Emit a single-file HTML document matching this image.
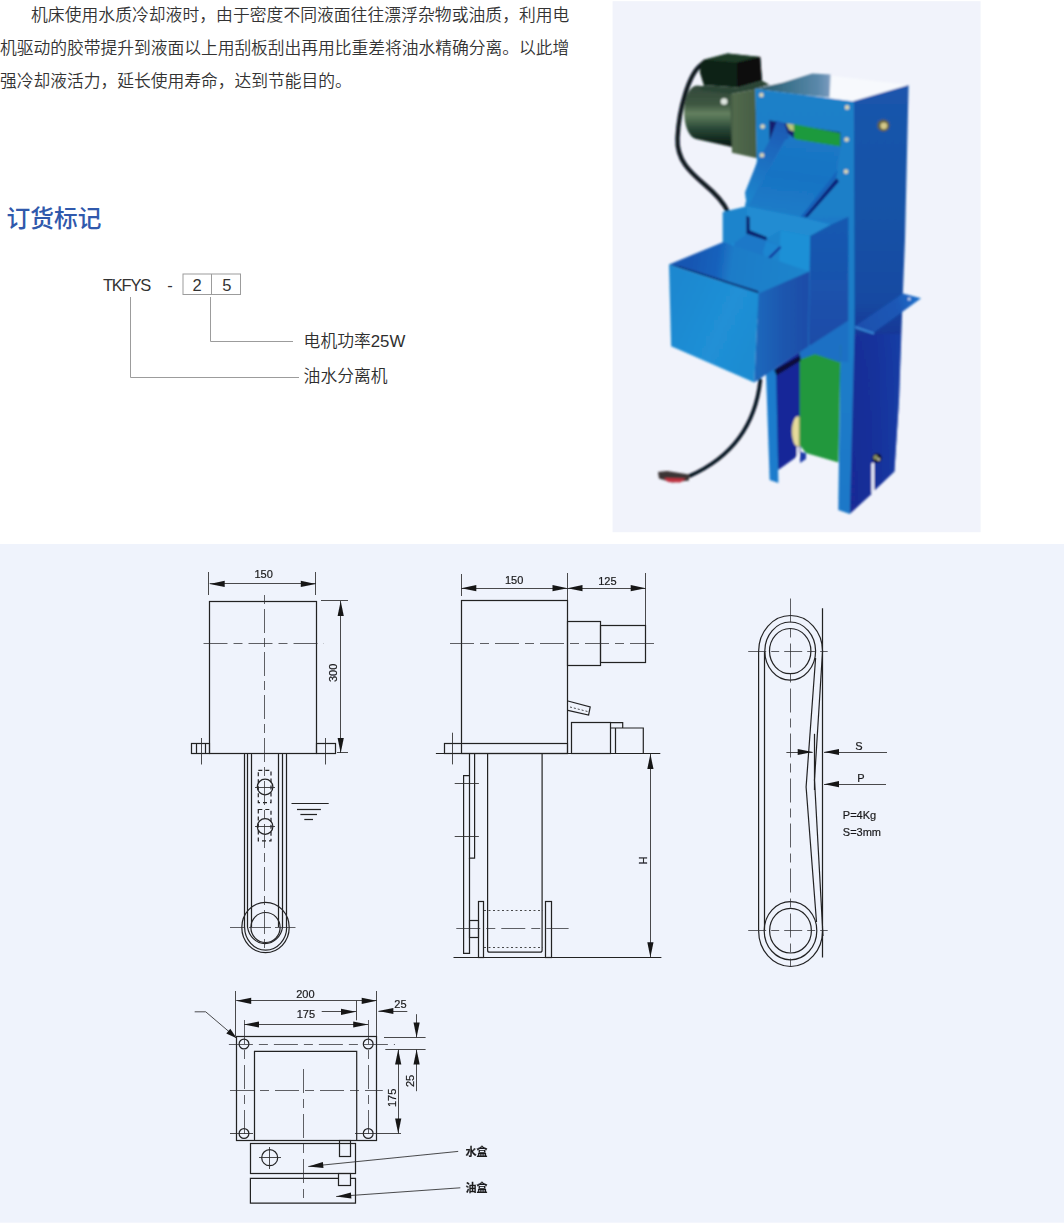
<!DOCTYPE html>
<html lang="zh-CN">
<head>
<meta charset="utf-8">
<title>油水分离机</title>
<style>
html,body{margin:0;padding:0;background:#fff;}
body{width:1064px;height:1226px;position:relative;overflow:hidden;font-family:"Liberation Sans","Noto Sans CJK SC",sans-serif;color:#333;}
.abs{position:absolute;white-space:nowrap;margin:0;}
.para{position:absolute;left:0;top:-1.4px;width:600px;margin:0;font-size:16.8px;line-height:33px;color:#333;font-weight:350;white-space:nowrap;}
.para span{display:block;height:33px;}
.h2{left:6.6px;top:201.6px;font-size:23.7px;line-height:34px;font-weight:500;color:#3059ac;}
.code{font-size:16.5px;line-height:22px;color:#333;}
.lbl{font-size:16.8px;line-height:22px;color:#2e2e2e;font-weight:350;}
#photo{position:absolute;left:612px;top:0;width:370px;height:533px;}
#panel{position:absolute;left:0;top:544px;width:1064px;height:682px;}
svg text{font-family:"Liberation Sans","Noto Sans CJK SC",sans-serif;}
.ah{fill:#151517;stroke:none}
#panel text{fill:#1a1a1c;stroke:#1a1a1c;stroke-width:0.2}
#panel .b{stroke-width:1.2;stroke:#222224}
#panel .n{stroke-width:0.85;stroke:#2a2a2c}
#panel .c{stroke-width:0.75;stroke:#2e2e32}
</style>
</head>
<body>
<p class="para"><span style="padding-left:31px;letter-spacing:0.045px">机床使用水质冷却液时，由于密度不同液面往往漂浮杂物或油质，利用电</span><span style="letter-spacing:-0.04px">机驱动的胶带提升到液面以上用刮板刮出再用比重差将油水精确分离。以此增</span><span style="letter-spacing:-0.03px">强冷却液活力，延长使用寿命，达到节能目的。</span></p>
<h2 class="abs h2">订货标记</h2>
<div class="abs code" style="left:103px;top:273.6px;letter-spacing:-1.25px;">TKFYS</div>
<div class="abs code" style="left:167.2px;top:273.6px;">-</div>
<svg class="abs" style="left:100px;top:260px;" width="340" height="140" viewBox="100 260 340 140">
<g fill="none" stroke="#9c9c9c" stroke-width="1">
<rect x="183" y="274" width="57.5" height="20.5"/>
<line x1="211.5" y1="274" x2="211.5" y2="294.5"/>
<polyline points="210.5,297 210.5,341.5 293,341.5"/>
<polyline points="130.5,297 130.5,377.5 299,377.5"/>
</g>
</svg>
<div class="abs code" style="left:192.6px;top:273.6px;">2</div>
<div class="abs code" style="left:222.2px;top:273.6px;">5</div>
<div class="abs lbl" style="left:303.6px;top:331.4px;">电机功率25W</div>
<div class="abs lbl" style="left:303.6px;top:365.9px;">油水分离机</div>
<svg id="photo" width="370" height="533" viewBox="0 0 370 533">
<defs><filter id="pb" x="-5%" y="-5%" width="110%" height="110%"><feGaussianBlur stdDeviation="0.9"/></filter>
<linearGradient id="gcyl" gradientUnits="userSpaceOnUse" x1="88" y1="86" x2="88" y2="146"><stop offset="0" stop-color="#33493a"/><stop offset="0.3" stop-color="#3d5641"/><stop offset="0.46" stop-color="#64805f"/><stop offset="0.56" stop-color="#4e6c50"/><stop offset="0.7" stop-color="#2c4a38"/><stop offset="0.9" stop-color="#12281e"/><stop offset="1" stop-color="#0a1a16"/></linearGradient>
<linearGradient id="ggear" gradientUnits="userSpaceOnUse" x1="118" y1="92" x2="144" y2="92"><stop offset="0" stop-color="#3e5640"/><stop offset="0.15" stop-color="#52694c"/><stop offset="1" stop-color="#465e44"/></linearGradient>
<linearGradient id="gtop" gradientUnits="userSpaceOnUse" x1="148" y1="85" x2="220" y2="85"><stop offset="0" stop-color="#2c5c6c"/><stop offset="0.4" stop-color="#3d738e"/><stop offset="0.8" stop-color="#5a88aa"/><stop offset="0.95" stop-color="#7698bc"/><stop offset="1" stop-color="#ccd8e8"/></linearGradient>
<linearGradient id="gr" gradientUnits="userSpaceOnUse" x1="268" y1="90" x2="268" y2="510"><stop offset="0" stop-color="#1a55ac"/><stop offset="0.3" stop-color="#1852a6"/><stop offset="0.5" stop-color="#174aa2"/><stop offset="0.57" stop-color="#123a98"/><stop offset="0.65" stop-color="#103394"/><stop offset="1" stop-color="#11298c"/></linearGradient>
<linearGradient id="grl" gradientUnits="userSpaceOnUse" x1="240" y1="420" x2="286" y2="420"><stop offset="0" stop-color="#1c2c98"/><stop offset="0.45" stop-color="#1a309c"/><stop offset="1" stop-color="#1a3ea8"/></linearGradient>
<linearGradient id="gbk" gradientUnits="userSpaceOnUse" x1="248" y1="320" x2="303" y2="300"><stop offset="0" stop-color="#1a50ae"/><stop offset="0.7" stop-color="#1a58b6"/><stop offset="1" stop-color="#1a6cc8"/></linearGradient>
<linearGradient id="gf" gradientUnits="userSpaceOnUse" x1="188" y1="90" x2="188" y2="510"><stop offset="0" stop-color="#1a80c8"/><stop offset="0.5" stop-color="#1b7ec8"/><stop offset="1" stop-color="#1a78c8"/></linearGradient>
<linearGradient id="gch" gradientUnits="userSpaceOnUse" x1="188" y1="140" x2="178" y2="215"><stop offset="0" stop-color="#1a78c6"/><stop offset="0.5" stop-color="#1973c3"/><stop offset="1" stop-color="#1b7cc8"/></linearGradient>
<linearGradient id="gcw" gradientUnits="userSpaceOnUse" x1="168" y1="122" x2="138" y2="200"><stop offset="0" stop-color="#1a58b2"/><stop offset="0.3" stop-color="#1a66bc"/><stop offset="1" stop-color="#1f84cc"/></linearGradient>
<linearGradient id="gmr" gradientUnits="userSpaceOnUse" x1="218" y1="230" x2="218" y2="345"><stop offset="0" stop-color="#1858b0"/><stop offset="1" stop-color="#1c4ca8"/></linearGradient>
<linearGradient id="grol" gradientUnits="userSpaceOnUse" x1="180" y1="430" x2="188" y2="430"><stop offset="0" stop-color="#d8cc88"/><stop offset="0.6" stop-color="#ece2a4"/><stop offset="1" stop-color="#b8b070"/></linearGradient>
<linearGradient id="gin" gradientUnits="userSpaceOnUse" x1="78" y1="260" x2="188" y2="275"><stop offset="0" stop-color="#1456b2"/><stop offset="0.25" stop-color="#1862bc"/><stop offset="0.38" stop-color="#1c7cc8"/><stop offset="1" stop-color="#1d84cc"/></linearGradient>
<linearGradient id="gbf" gradientUnits="userSpaceOnUse" x1="58" y1="300" x2="146" y2="340"><stop offset="0" stop-color="#1e88d0"/><stop offset="0.6" stop-color="#2090d6"/><stop offset="1" stop-color="#1f8cd2"/></linearGradient>
<linearGradient id="gbr" gradientUnits="userSpaceOnUse" x1="148" y1="330" x2="196" y2="330"><stop offset="0" stop-color="#1b66ba"/><stop offset="0.5" stop-color="#1c56ae"/><stop offset="1" stop-color="#1e4ca8"/></linearGradient>
</defs>
<rect x="0.6" y="1.2" width="368" height="531" fill="#f1f3fb"/>
<g filter="url(#pb)">
<path d="M 89 65 C 77 74 67 108 65.5 138 C 64.5 160 78 172 92 184 C 104 194 112 203 116 212" fill="none" stroke="#08121e" stroke-width="4.3" stroke-linecap="round"/>
<path d="M 85 85.5 L 120 89 L 120 147 L 84 139 A 13 26.8 0 0 1 85 85.5 Z" fill="url(#gcyl)"/>
<polygon points="117.8,94.1 143.5,89.6 145,158.3 120,152.8" fill="url(#ggear)"/>
<polygon points="91.8,59.7 115.5,53.5 148.2,56.9 149.9,80.6 125.7,87.4 91.8,85.1 87.9,72.7 88.5,62.6" fill="#0d2016"/>
<polygon points="91.8,59.7 115.5,53.5 148.2,56.9 125,62.5" fill="#1e3a28"/>
<polygon points="125,62.5 148.2,56.9 149.9,80.6 125.7,87.4" fill="#07090f"/>
<polygon points="91.8,85.1 125.7,87.4 149.9,80.6 158,85 143,89.6 117.8,94.1 88,90" fill="#2a4434"/>
<circle cx="112.1" cy="101.5" r="3.3" fill="#dfe6e0"/>
<polygon points="143.2,88.8 200.2,73.5 297,85 243,101.6" fill="#f7f9fd"/>
<polygon points="143.2,88.8 170.9,82.6 200.2,73.5 219,74.6 217.6,97.5 186.6,94.5" fill="url(#gtop)"/>
<polygon points="241,101.3 296.6,85 293,240 290.6,300 287,400 282.4,471.6 262.3,490.4 262.3,464 259.4,464 259.4,494 237.5,514 238.5,330" fill="url(#gr)"/>
<polygon points="238.5,334 289,334 287,400 282.4,471.6 262.3,490.4 262.3,464 259.4,464 259.4,494 237.5,514" fill="url(#grl)" opacity="0.8"/>
<polygon points="243.2,326 291,293.6 309,298.2 262,332.5" fill="url(#gbk)"/>
<polygon points="243.2,326 262,332.5 262,334.6 243.2,328.2" fill="#3a8ada"/>
<circle cx="297.2" cy="299" r="1.5" fill="#c8daf0"/>
<polygon points="143.2,88.8 241.9,101.5 242.6,330 237.8,514 226.3,510 228.2,358 196,347 148,300 133,205 144.9,161.5" fill="url(#gf)"/>
<polygon points="196,347 236.3,320.8 236.3,362 196,358" fill="#1a70c4"/>
<polygon points="157.3,120.3 182,125 228.4,132.2 228.4,146.3 182,139.6 177.3,138.1 166,136 157.6,140.5" fill="#141a6c"/>
<polygon points="182,124.1 228.2,132.9 228.2,146.6 182,139.6" fill="#1f9a3c"/>
<polygon points="174.2,123.6 181.8,124.6 181.8,131.5 177.5,130" fill="#b8c878"/>
<polygon points="172.6,131 184,139.5 228.8,147 224,177 191,218 134.7,206.3 133.2,192.2 144.5,164" fill="url(#gch)"/>
<polygon points="164.9,120.5 172.6,123.6 177.3,138.1 173,140 137,204 134.7,206.3 133.2,192.2 144.5,164 157.6,140.2" fill="url(#gcw)"/>
<polygon points="226,170 224,177 191,218 188,217.4" fill="#1860ba"/>
<polygon points="224.5,178 227,181.5 195,217.8 191.4,217.8" fill="#0f1e78"/>
<polygon points="110.7,211.9 134.7,206.3 191,217.5 236.5,217 236.3,320.8 196,347 110.7,300" fill="#1c84cc"/>
<polygon points="134.7,206.3 191,217.5 219.2,224.6 198.1,235.9 168.5,230.2 154.4,238.7 135.4,231.6" fill="#218cd2"/>
<polygon points="191,217.5 236.5,216.8 219.2,224.6" fill="#1b7ac8"/>
<polygon points="198.1,235.9 219.2,224.6 236.5,216.8 236.3,320.8 196.7,346.6" fill="url(#gmr)"/>
<polygon points="168.5,230.2 198.1,235.9 197.2,271.4 167.1,262" fill="#1c90d6"/>
<polygon points="134.4,216 137.6,217 137.8,230.3 155,237.3 154.4,241 134.4,233.8" fill="#0c1c6a"/>
<polygon points="118.5,245.5 135,234.1 154.7,240.3 169.2,246.5 153.7,261 117.5,248.6" fill="#1a78c8"/>
<polygon points="154.4,241 169.2,246.5 153.7,261 151,252" fill="#1f86d0"/>
<polygon points="153.4,260 167.6,246.2 169.4,247.6 155.4,261.6" fill="#14309a"/>
<polygon points="117.5,248.6 118.5,245.5 122,243 121,250" fill="#2a9ae0"/>
<polygon points="158,372 196,346 188,452 183,458 166.2,470" fill="#182898"/>
<polygon points="154,372 164,368 166.4,482.9 157.7,480" fill="#1a7ccc"/>
<ellipse cx="186.2" cy="431.5" rx="6.4" ry="15.2" fill="url(#grol)"/>
<polygon points="187.6,345 200,345 228.7,345 226.5,462.5 194,453 187.6,445" fill="#23983e"/>
<polygon points="187.8,345 228.7,345 228.7,362.5 203,354 187.8,359.5" fill="#1a70c4"/>
<polygon points="188,452 194,453 194,459 188,463" fill="#1a3aa8"/>
<polygon points="162,370 188,355.5 189,360.5 164.5,375.5" fill="#080c38"/>
<polygon points="57,264.5 111.3,242 197.2,271.4 146.6,293.4" fill="url(#gin)"/>
<polygon points="68,266.5 146,291 146.6,293.4 57,264.5" fill="#0a2068"/>
<polygon points="57,264.5 146.6,293.4 142.3,382.5 59.1,346.3" fill="url(#gbf)"/>
<polygon points="146.6,293.4 197.2,271.4 196.2,346.6 142.3,382.5" fill="url(#gbr)"/>
<circle cx="149.4" cy="95" r="2.3" fill="#d8d4b4"/>
<circle cx="150.6" cy="126.5" r="2.3" fill="#d8d4b4"/>
<circle cx="150" cy="155.3" r="2.3" fill="#d8d4b4"/>
<circle cx="235.1" cy="107.4" r="2.3" fill="#d8d4b4"/>
<circle cx="234.6" cy="139.5" r="2.3" fill="#d8d4b4"/>
<circle cx="234" cy="171.6" r="2.3" fill="#d8d4b4"/>
<circle cx="271.4" cy="125.5" r="6" fill="#5e6040"/>
<circle cx="271.8" cy="125.8" r="3.4" fill="#d4c888"/>
<circle cx="265" cy="458" r="4.6" fill="#0a0f1a"/>
<circle cx="263.6" cy="457.4" r="2.3" fill="#8e9464"/>
<circle cx="266.6" cy="459.4" r="1.3" fill="#d4d4b8"/>
<polygon points="259.6,463 262.1,463 262.1,490.6 259.6,493.6" fill="#f0f3fc"/>
<polygon points="184.8,447 187,447 187,455.5 184.8,457.5" fill="#f0f3fc"/>
<path d="M 148.3 380.4 C 144.5 415 129 453 78 475.8" fill="none" stroke="#06101c" stroke-width="3.7" stroke-linecap="round"/>
<polygon points="46,472 55,471 77,474.5 77,480.5 60,482.5 47,478.5" fill="#3a3434"/>
<polygon points="52,478 74,478.5 68,482.5 56,482" fill="#c03040"/>
</g>
</svg>
<svg id="panel" width="1064" height="682" viewBox="0 544 1064 682">
<defs><filter id="db" x="-2%" y="-2%" width="104%" height="104%"><feGaussianBlur stdDeviation="0.4"/></filter></defs>
<rect x="0" y="543.7" width="1064" height="679" fill="#eff3fc"/>
<g fill="none" stroke="#2a2a2c" stroke-width="1" filter="url(#db)">
<g class="b">
<rect x="209.5" y="601.5" width="107" height="152"/>
<line x1="191.7" y1="753.5" x2="335.6" y2="753.5"/>
<rect x="191.5" y="743.5" width="18" height="10"/>
<line x1="196.5" y1="743.9" x2="196.5" y2="753.8"/>
<line x1="205.5" y1="743.9" x2="205.5" y2="753.8"/>
<rect x="316.5" y="743.5" width="19" height="10"/>
<line x1="244.5" y1="753.8" x2="244.5" y2="927"/>
<line x1="247.5" y1="753.8" x2="247.5" y2="927"/>
<line x1="251.5" y1="753.8" x2="251.5" y2="927"/>
<line x1="278.5" y1="753.8" x2="278.5" y2="927"/>
<line x1="282.5" y1="753.8" x2="282.5" y2="927"/>
<line x1="286.5" y1="753.8" x2="286.5" y2="927"/>
<ellipse cx="265.1" cy="787" rx="7.8" ry="7.8"/>
<ellipse cx="265.1" cy="826.5" rx="7.8" ry="7.8"/>
<path d="M258.3 770.3 H271 V802.6 H258.3 Z" stroke-dasharray="4 3"/>
<path d="M258.3 809.5 H271 V840.8 H258.3 Z" stroke-dasharray="4 3"/>
<line x1="291.5" y1="803.5" x2="328.7" y2="803.5"/>
<line x1="297" y1="809.5" x2="320.9" y2="809.5"/>
<line x1="300.4" y1="814.5" x2="317" y2="814.5"/>
<line x1="304.3" y1="819.5" x2="313" y2="819.5"/>
<ellipse cx="265.5" cy="927.5" rx="14.6" ry="15"/>
<ellipse cx="265.5" cy="927.5" rx="23.7" ry="25.2"/>
<path d="M244.6 927 A20.9 23 0 0 0 286.7 927"/>
<path d="M247.5 927 A17.8 20 0 0 0 282.6 927"/>
</g>
<g class="n">
<line x1="208.5" y1="572" x2="208.5" y2="595"/>
<line x1="315.5" y1="572" x2="315.5" y2="595"/>
<line x1="209.7" y1="583.5" x2="316" y2="583.5"/>
<polygon class="ah" points="209.7,583.9 224.7,580.8 224.7,587"/>
<polygon class="ah" points="315.8,583.9 300.8,587 300.8,580.8"/>
<line x1="321" y1="600.5" x2="348" y2="600.5"/>
<line x1="337" y1="752.5" x2="348" y2="752.5"/>
<line x1="340.5" y1="601" x2="340.5" y2="753"/>
<polygon class="ah" points="340.7,601 343.8,616 337.6,616"/>
<polygon class="ah" points="340.7,753 337.6,738 343.8,738"/>
<line x1="201.5" y1="738" x2="201.5" y2="764.5"/>
<line x1="325.5" y1="738" x2="325.5" y2="764.5"/>
<line x1="255" y1="787.5" x2="275" y2="787.5"/>
<line x1="255" y1="826.5" x2="275" y2="826.5"/>
</g>
<g class="c">
<line x1="264.5" y1="595" x2="264.5" y2="948" stroke-dasharray="9 5 24 5"/>
<line x1="203.5" y1="643.5" x2="323.8" y2="643.5" stroke-dasharray="24 6 9 6"/>
<line x1="230" y1="927.5" x2="295.5" y2="927.5" stroke-dasharray="15 4 22 4 40"/>
</g>
<text x="263.6" y="578" font-size="11" text-anchor="middle">150</text>
<text x="336.6" y="672.8" font-size="11" text-anchor="middle" transform="rotate(-90 336.6 672.8)">300</text>
<g class="b">
<rect x="461.5" y="600.5" width="106" height="153"/>
<rect x="444.5" y="743.5" width="123" height="10"/>
<line x1="435.9" y1="753.5" x2="660.3" y2="753.5"/>
<rect x="567.5" y="621.5" width="33" height="44"/>
<rect x="600.5" y="625.5" width="45" height="37"/>
<polyline points="567.9,701 590.2,706.9 588.6,715.1 567.9,710.4"/>
<rect x="571.5" y="722.5" width="39" height="31"/>
<polyline points="610.5,722.6 622.7,722.6 622.7,728"/>
<line x1="615.5" y1="728" x2="615.5" y2="753.8"/>
<polyline points="610.5,728 643.3,728 643.3,753.8"/>
<line x1="453.5" y1="957.5" x2="661.4" y2="957.5"/>
<path d="M487.6 754 V950.2 Q487.6 952.2 489.6 952.2 H540.1 Q542.1 952.2 542.1 950.2 V754"/>
<polyline points="469.5,754 469.5,858.2 474.6,858.2 474.6,754"/>
<polyline points="469.5,775.7 463.6,775.7 463.6,953.3 469.5,953.3 469.5,858"/>
<rect x="478.5" y="901.5" width="5" height="56"/>
<rect x="545.5" y="901.5" width="6" height="56"/>
<rect x="469.5" y="920.5" width="9" height="17"/>
</g>
<g class="n">
<line x1="461.5" y1="574" x2="461.5" y2="596"/>
<line x1="567.5" y1="573" x2="567.5" y2="600"/>
<line x1="645.5" y1="573" x2="645.5" y2="625.3"/>
<line x1="461.3" y1="588.5" x2="645.7" y2="588.5"/>
<polygon class="ah" points="461.3,588.2 476.3,585.1 476.3,591.3"/>
<polygon class="ah" points="567.5,588.2 552.5,591.3 552.5,585.1"/>
<polygon class="ah" points="567.5,588.2 582.5,585.1 582.5,591.3"/>
<polygon class="ah" points="645.7,588.2 630.7,591.3 630.7,585.1"/>
<line x1="570" y1="707" x2="587.5" y2="711.5" stroke-dasharray="2 2"/>
<line x1="452.5" y1="732.7" x2="452.5" y2="764.4"/>
<line x1="650.5" y1="754" x2="650.5" y2="957"/>
<polygon class="ah" points="650.4,754 653.5,769 647.3,769"/>
<polygon class="ah" points="650.4,957.3 647.3,942.3 653.5,942.3"/>
<line x1="454.7" y1="783.5" x2="478.9" y2="783.5"/>
<line x1="454.7" y1="836.5" x2="478.9" y2="836.5"/>
<line x1="484" y1="910.5" x2="542.8" y2="910.5" stroke-dasharray="2 2.5"/>
<line x1="484" y1="947.5" x2="542.8" y2="947.5" stroke-dasharray="2 2.5"/>
</g>
<g class="c">
<line x1="450" y1="643.5" x2="656.7" y2="643.5" stroke-dasharray="24 6 9 6"/>
<line x1="456.3" y1="928.5" x2="568.6" y2="928.5" stroke-dasharray="24 6 9 6"/>
</g>
<text x="514.1" y="584" font-size="11" text-anchor="middle">150</text>
<text x="607.4" y="585" font-size="11" text-anchor="middle">125</text>
<text x="646.6" y="860.5" font-size="11" text-anchor="middle" transform="rotate(-90 646.6 860.5)">H</text>
<g class="b">
<ellipse cx="790.2" cy="651.1" rx="20.7" ry="22.6"/>
<ellipse cx="790.2" cy="651.1" rx="25.4" ry="29.1"/>
<ellipse cx="790.5" cy="930.7" rx="20.9" ry="22.3"/>
<ellipse cx="790.5" cy="930.7" rx="26.3" ry="29.1"/>
<path d="M758.6 930.5 V651.5 A32 36 0 0 1 822.6 651.5"/>
<path d="M758.6 930.5 A32 36 0 0 0 822.6 930.5"/>
<line x1="764.5" y1="651.5" x2="764.5" y2="930.5"/>
<line x1="822.5" y1="608.2" x2="822.5" y2="957.6"/>
<polyline points="815.6,658 806.1,787 816.5,922"/>
<polyline points="822.5,652 814.5,780 823,936"/>
<line x1="814.5" y1="733.8" x2="814.5" y2="790"/>
</g>
<g class="n">
<line x1="786.4" y1="752.5" x2="812.7" y2="752.5"/>
<polygon class="ah" points="812.7,752 797.7,755.1 797.7,748.9"/>
<line x1="824" y1="752.5" x2="887" y2="752.5"/>
<polygon class="ah" points="824,752 839,748.9 839,755.1"/>
<line x1="824" y1="784.5" x2="886" y2="784.5"/>
<polygon class="ah" points="824,784.2 839,781.1 839,787.3"/>
</g>
<g class="c">
<line x1="790.5" y1="598.5" x2="790.5" y2="967" stroke-dasharray="24 6 9 6"/>
<line x1="748.2" y1="651.5" x2="827.7" y2="651.5" stroke-dasharray="18 5 8 5"/>
<line x1="748.2" y1="930.5" x2="827.7" y2="930.5" stroke-dasharray="18 5 8 5"/>
</g>
<text x="859" y="749.6" font-size="11" text-anchor="middle">S</text>
<text x="861" y="782" font-size="11" text-anchor="middle">P</text>
<text x="842.8" y="819.3" font-size="11" text-anchor="start">P=4Kg</text>
<text x="842.8" y="835.7" font-size="11" text-anchor="start">S=3mm</text>
<g class="b">
<rect x="236.5" y="1036.5" width="140" height="104"/>
<polyline points="254.5,1140.6 254.5,1051.4 356.7,1051.4 356.7,1140.6"/>
<ellipse cx="244" cy="1044" rx="4.9" ry="4.9"/>
<ellipse cx="368.2" cy="1044" rx="4.9" ry="4.9"/>
<ellipse cx="244" cy="1133.5" rx="4.9" ry="4.9"/>
<ellipse cx="368.2" cy="1133.5" rx="4.9" ry="4.9"/>
<rect x="250.5" y="1143.5" width="105" height="30"/>
<ellipse cx="269.7" cy="1157.7" rx="8" ry="8"/>
<rect x="339.5" y="1140.5" width="11" height="16"/>
<polyline points="338.9,1178.4 250.4,1178.4 250.4,1203.1 355.5,1203.1 355.5,1178.4 350.3,1178.4"/>
<rect x="338.5" y="1173.5" width="12" height="12"/>
</g>
<g class="n">
<line x1="230" y1="1133.5" x2="253" y2="1133.5"/>
<line x1="355" y1="1133.5" x2="401" y2="1133.5"/>
<line x1="235.5" y1="991" x2="235.5" y2="1036"/>
<line x1="376.5" y1="991" x2="376.5" y2="1036"/>
<line x1="236.2" y1="1000.5" x2="376.7" y2="1000.5"/>
<polygon class="ah" points="236.2,1000.8 251.2,997.7 251.2,1003.9"/>
<polygon class="ah" points="376.7,1000.8 361.7,1003.9 361.7,997.7"/>
<line x1="244" y1="1024.5" x2="368.2" y2="1024.5"/>
<polygon class="ah" points="244,1024.5 259,1021.4 259,1027.6"/>
<polygon class="ah" points="368.2,1024.5 353.2,1027.6 353.2,1021.4"/>
<line x1="321.7" y1="1011.5" x2="356" y2="1011.5"/>
<polygon class="ah" points="356,1011.8 341,1014.9 341,1008.7"/>
<line x1="356.5" y1="1000.8" x2="356.5" y2="1020.3"/>
<line x1="378.4" y1="1011.5" x2="407.3" y2="1011.5"/>
<polygon class="ah" points="378.4,1011 393.4,1007.9 393.4,1014.1"/>
<line x1="384" y1="1037.5" x2="425.6" y2="1037.5"/>
<line x1="385.3" y1="1049.5" x2="425.6" y2="1049.5"/>
<line x1="416.5" y1="1014.2" x2="416.5" y2="1037.4"/>
<polygon class="ah" points="416.6,1037.4 413.5,1022.4 419.7,1022.4"/>
<line x1="416.5" y1="1049.6" x2="416.5" y2="1091.2"/>
<polygon class="ah" points="416.6,1049.6 419.7,1064.6 413.5,1064.6"/>
<line x1="398.5" y1="1049.6" x2="398.5" y2="1133.5"/>
<polygon class="ah" points="398.2,1049.6 401.3,1064.6 395.1,1064.6"/>
<polygon class="ah" points="398.2,1133.5 395.1,1118.5 401.3,1118.5"/>
<polyline points="194.7,1011.8 205.7,1011.8 236.7,1038.2"/>
<polygon class="ah" points="236.7,1038.2 226.3,1033.4 230.3,1028.7"/>
<line x1="259" y1="1157.5" x2="281" y2="1157.5"/>
<line x1="269.5" y1="1147" x2="269.5" y2="1169"/>
<line x1="458.2" y1="1151.4" x2="308.3" y2="1166.5"/>
<polygon class="ah" points="308.3,1166.5 322.9,1161.9 323.5,1168.1"/>
<line x1="460.3" y1="1187.8" x2="336.2" y2="1196.5"/>
<polygon class="ah" points="336.2,1196.5 350.9,1192.4 351.4,1198.5"/>
</g>
<g class="c">
<line x1="228.9" y1="1044.5" x2="395" y2="1044.5" stroke-dasharray="24 6 9 6"/>
<line x1="244.5" y1="1020" x2="244.5" y2="1139" stroke-dasharray="24 6 9 6"/>
<line x1="368.5" y1="1020" x2="368.5" y2="1139" stroke-dasharray="24 6 9 6"/>
<line x1="230" y1="1090.5" x2="382.8" y2="1090.5" stroke-dasharray="24 6 9 6"/>
<line x1="303.5" y1="1069" x2="303.5" y2="1203.6" stroke-dasharray="24 6 9 6"/>
</g>
<text x="305.4" y="998.2" font-size="11" text-anchor="middle">200</text>
<text x="305.9" y="1018.2" font-size="11" text-anchor="middle">175</text>
<text x="400.4" y="1008.4" font-size="11" text-anchor="middle">25</text>
<text x="413.7" y="1080.9" font-size="11" text-anchor="middle" transform="rotate(-90 413.7 1080.9)">25</text>
<text x="396.1" y="1097.8" font-size="11" text-anchor="middle" transform="rotate(-90 396.1 1097.8)">175</text>
<text x="465.4" y="1155.5" font-size="11" text-anchor="start" font-weight="bold">水盒</text>
<text x="465.4" y="1192" font-size="11" text-anchor="start" font-weight="bold">油盒</text>
</g>
</svg>
</body>
</html>
